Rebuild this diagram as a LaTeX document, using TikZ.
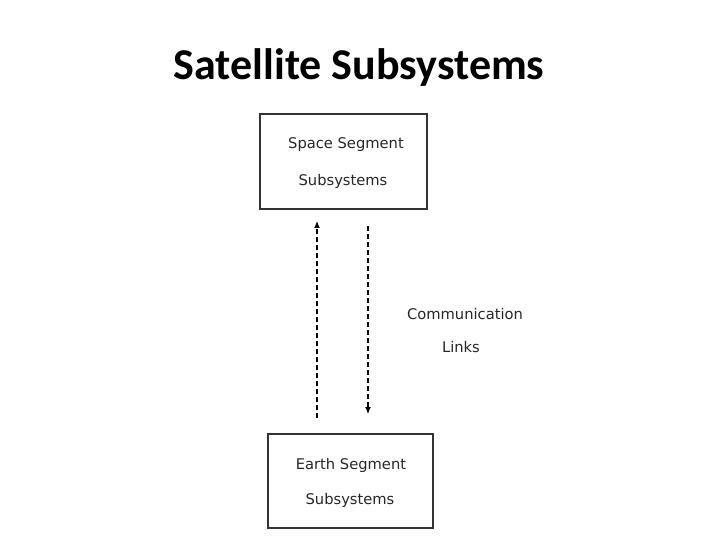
\documentclass[tikz,border=0pt]{standalone}
\usepackage{fontspec}
\setmainfont{DejaVu Sans}
\newfontfamily\titlefont{Carlito}
\usetikzlibrary{arrows.meta}
\begin{document}
\begin{tikzpicture}[x=1pt,y=-1pt,
  segbox/.style={draw=black!80,line width=1.6pt},
  lbl/.style={font=\fontsize{14.7}{16}\selectfont,text=black!85},
  link/.style={dash pattern=on 5pt off 3pt,line width=1.2pt,-{Latex[length=7pt,width=6pt]}}]
\useasboundingbox (0,0) rectangle (720,540);
\node[font=\titlefont\bfseries\fontsize{44}{48}\selectfont] (title) at (359,68) {Satellite Subsystems};
\draw[segbox] (260,114) rectangle (427,209);
\node[lbl] (s1) at (346,145) {Space Segment};
\node[lbl] (s2) at (343,181) {Subsystems};
\draw[segbox] (268,434) rectangle (433,528);
\node[lbl] (e1) at (351,465) {Earth Segment};
\node[lbl] (e2) at (350,500) {Subsystems};
\coordinate (u1) at (317,418); \coordinate (u2) at (317,221);
\coordinate (d1) at (368,226); \coordinate (d2) at (368,414);
\draw[link] (u1) -- (u2);
\draw[link] (d1) -- (d2);
\node[lbl] (c1) at (465,314) {Communication};
\node[lbl] (c2) at (461,347) {Links};
\end{tikzpicture}
\end{document}
